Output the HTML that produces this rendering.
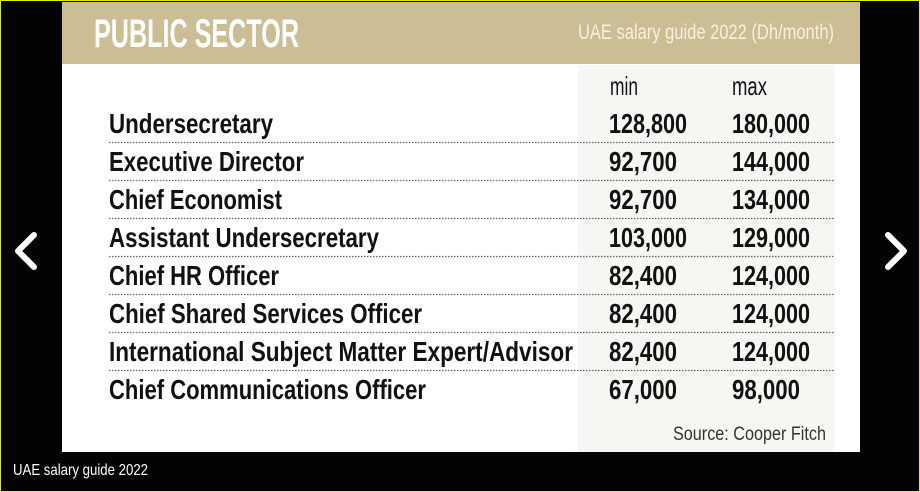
<!DOCTYPE html>
<html><head><meta charset="utf-8"><style>
html,body{margin:0;padding:0;background:#000;}
#wrap{position:relative;width:920px;height:492px;overflow:hidden;background:#030303;box-sizing:border-box;border:1px solid #e8e800;}
svg{position:absolute;left:0;top:0;}
text{font-family:"Liberation Sans Narrow","Liberation Sans",sans-serif;}
</style></head><body>
<div id="wrap">
<svg width="920" height="492" viewBox="0 0 920 492">
  <rect x="61" y="1" width="798" height="450" fill="#ffffff"/>
  <rect x="61" y="1" width="798" height="62" fill="#cbbe94"/>
  <rect x="577" y="64" width="257" height="387" fill="#f7f6f3"/>
  <text x="93" y="46" font-size="40" font-weight="bold" fill="#ffffff" textLength="205" lengthAdjust="spacingAndGlyphs">PUBLIC SECTOR</text>
  <text x="577" y="38" font-size="21" fill="#f6f0de" textLength="256" lengthAdjust="spacingAndGlyphs">UAE salary guide 2022 (Dh/month)</text>
  <text x="609" y="94" font-size="26" fill="#111" textLength="28" lengthAdjust="spacingAndGlyphs">min</text>
  <text x="731" y="94" font-size="26" fill="#111" textLength="35" lengthAdjust="spacingAndGlyphs">max</text>
  <g id="rows"></g>
  <text x="672" y="439" font-size="19" fill="#333" textLength="153" lengthAdjust="spacingAndGlyphs">Source: Cooper Fitch</text>
  <text x="12" y="474" font-size="16" fill="#ffffff" textLength="135" lengthAdjust="spacingAndGlyphs">UAE salary guide 2022</text>
  <polyline points="33,234 17,250 33,266" fill="none" stroke="#fff" stroke-width="6" stroke-linecap="round" stroke-linejoin="round"/>
  <polyline points="887,234 903,250 887,266" fill="none" stroke="#fff" stroke-width="6" stroke-linecap="round" stroke-linejoin="round"/>
</svg>
</div>
<script>
const roles = ["Undersecretary","Executive Director","Chief Economist","Assistant Undersecretary","Chief HR Officer","Chief Shared Services Officer","International Subject Matter Expert/Advisor","Chief Communications Officer"];
const minValues = [128800,92700,92700,103000,82400,82400,82400,67000];
const maxValues = [180000,144000,134000,129000,124000,124000,124000,98000];
const roleWidths = [164,195,173,270,170,313,464,317];
const g = document.getElementById('rows');
const NS = 'http://www.w3.org/2000/svg';
function fmt(v){return v.toLocaleString('en-US');}
function numW(s){return s.length===7?78:68;}
roles.forEach((r,i)=>{
  const y = 132 + i*38;
  const t = document.createElementNS(NS,'text');
  
  
  t.setAttribute('x',108);t.setAttribute('y',y);t.setAttribute('font-size','28');t.setAttribute('font-weight','bold');t.setAttribute('fill','#111');
  t.setAttribute('textLength',roleWidths[i]);t.setAttribute('lengthAdjust','spacingAndGlyphs');
  t.textContent=r;g.appendChild(t);
  const a = document.createElementNS(NS,'text');
  
  
  const sa=fmt(minValues[i]);
  a.setAttribute('x',608);a.setAttribute('y',y);a.setAttribute('font-size','28');a.setAttribute('font-weight','bold');a.setAttribute('fill','#111');
  a.setAttribute('textLength',numW(sa));a.setAttribute('lengthAdjust','spacingAndGlyphs');
  a.textContent=sa;g.appendChild(a);
  const b = document.createElementNS(NS,'text');
  
  
  const sb=fmt(maxValues[i]);
  b.setAttribute('x',731);b.setAttribute('y',y);b.setAttribute('font-size','28');b.setAttribute('font-weight','bold');b.setAttribute('fill','#111');
  b.setAttribute('textLength',numW(sb));b.setAttribute('lengthAdjust','spacingAndGlyphs');
  b.textContent=sb;g.appendChild(b);
  if(i<roles.length-1){
    const l=document.createElementNS(NS,'line');
    
    
    l.setAttribute('x1',108);l.setAttribute('x2',833);l.setAttribute('y1',y+9.5);l.setAttribute('y2',y+9.5);
    l.setAttribute('stroke','#666');l.setAttribute('stroke-width','1.2');l.setAttribute('stroke-dasharray','1.5 1.5');
    g.appendChild(l);
  }
});
</script>
</body></html>
